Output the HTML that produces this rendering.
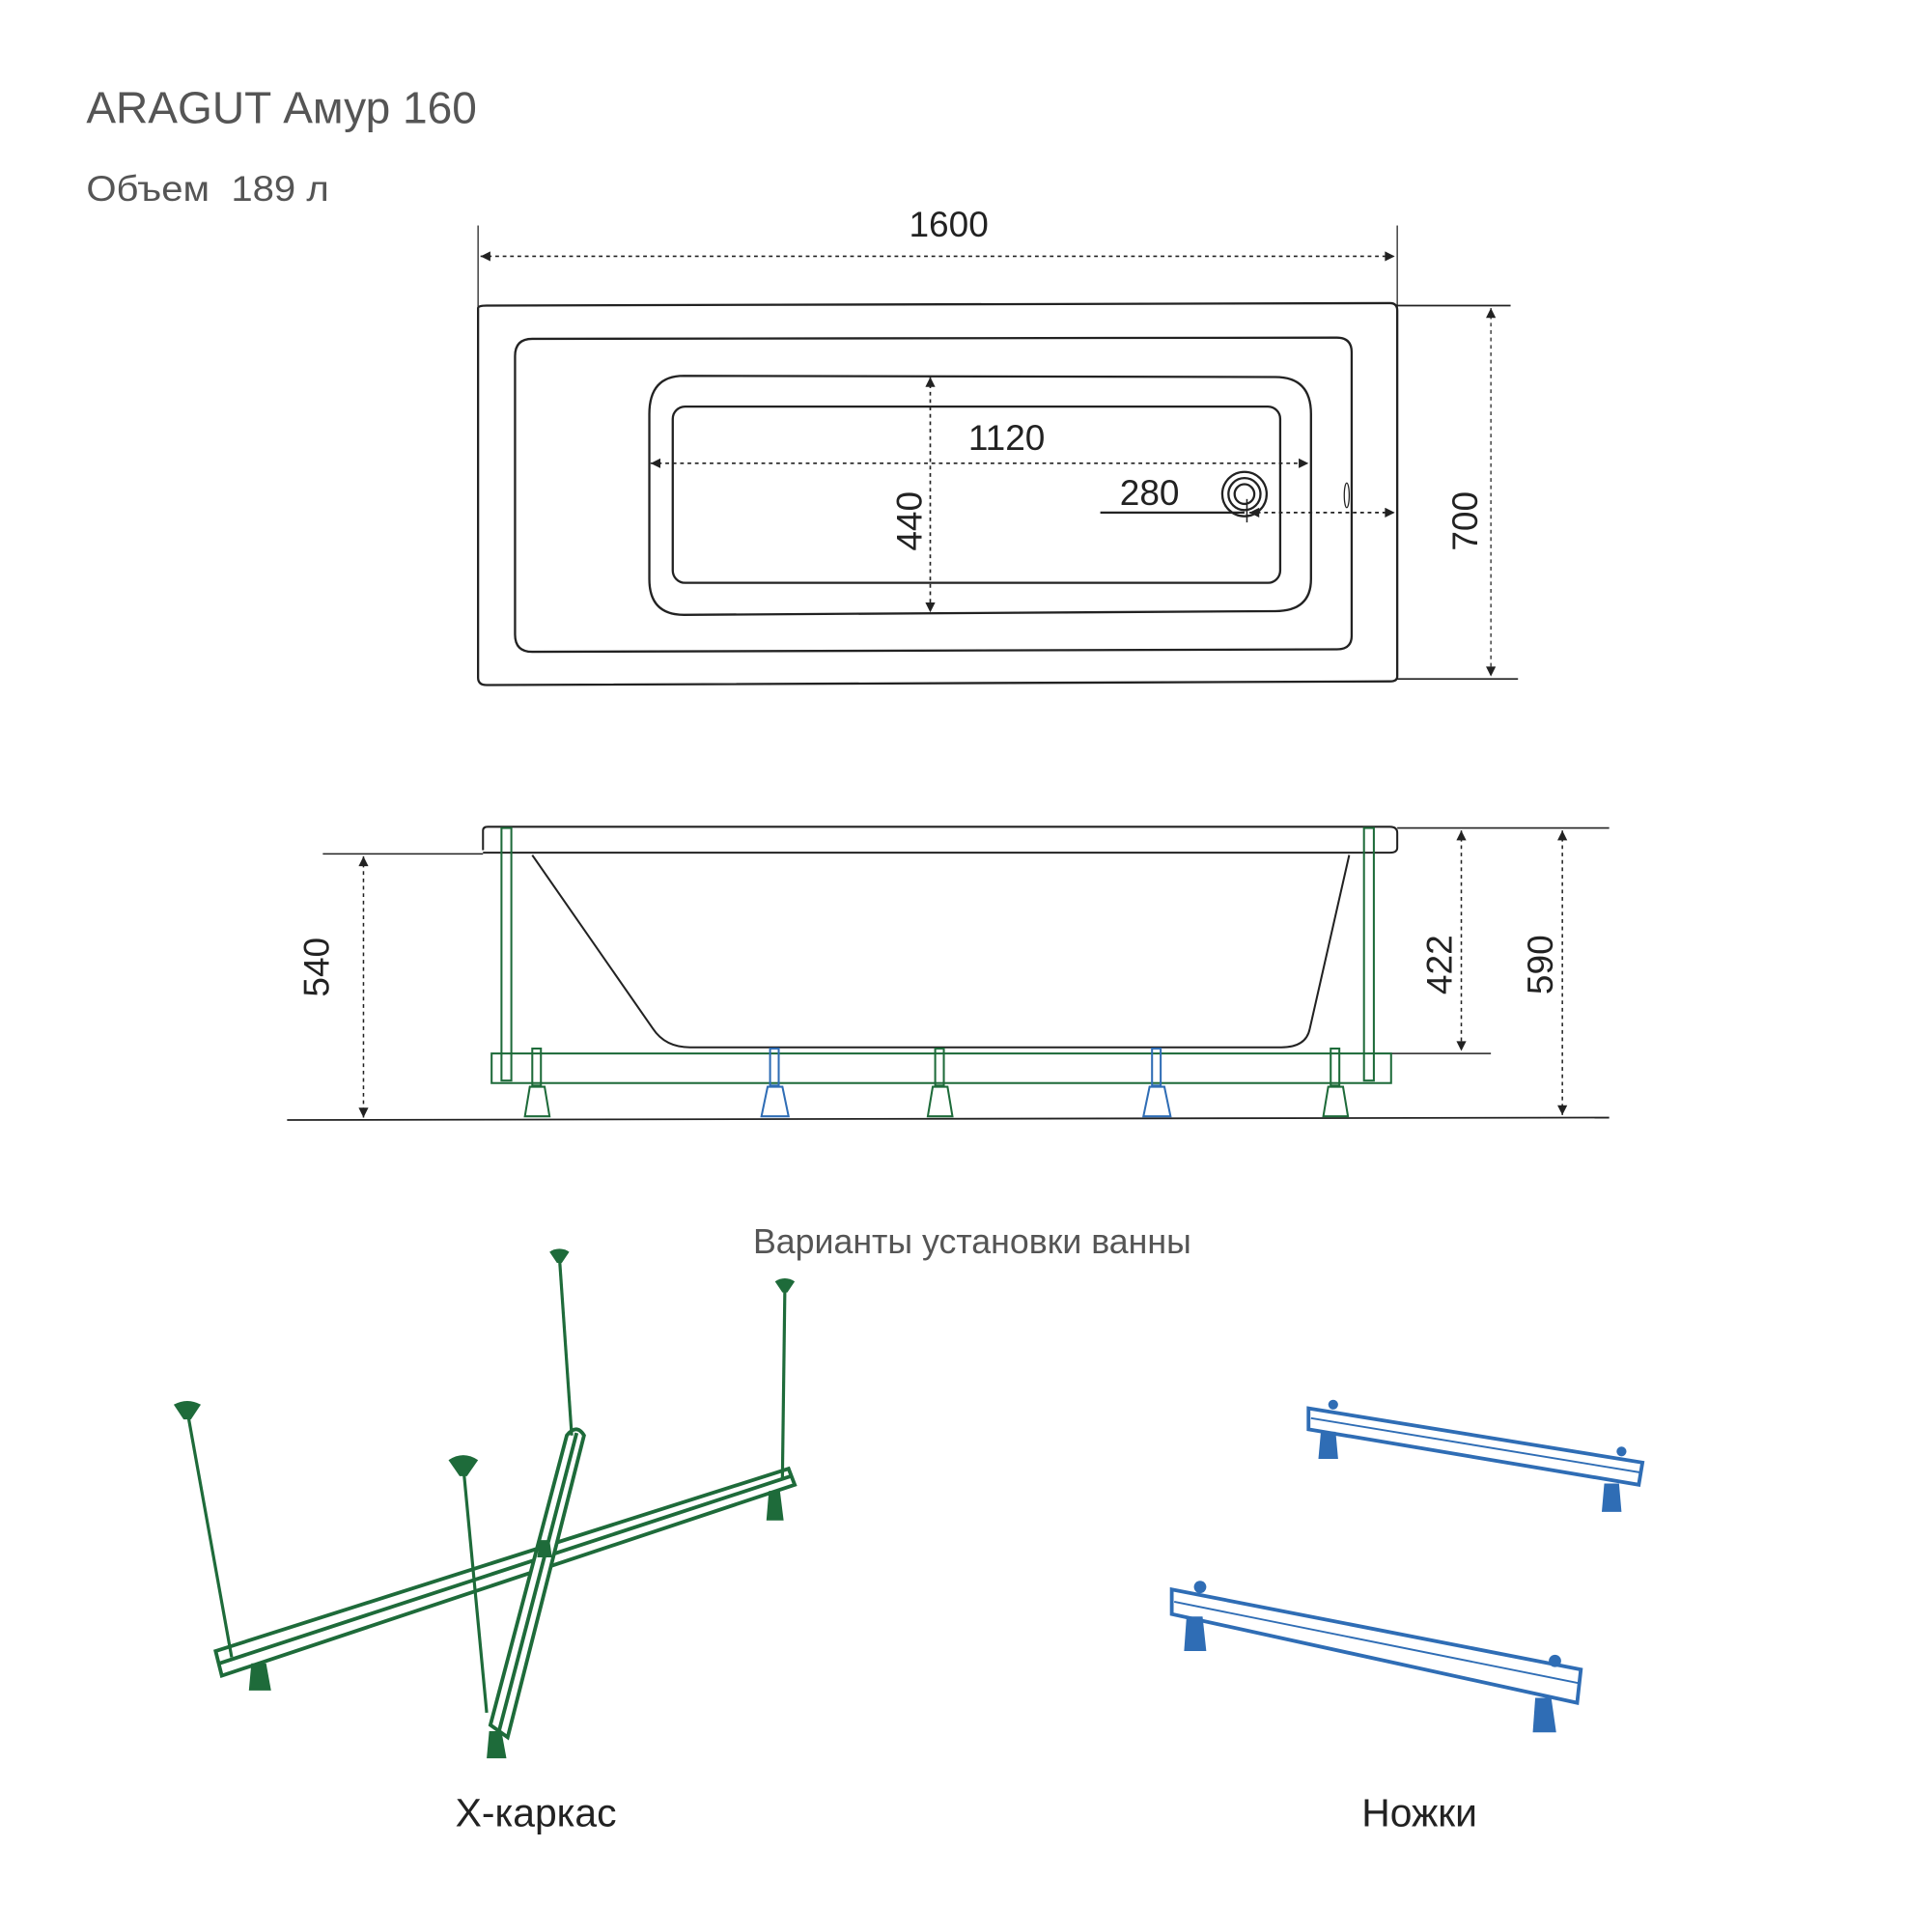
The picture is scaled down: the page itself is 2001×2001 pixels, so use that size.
<!DOCTYPE html>
<html><head><meta charset="utf-8"><style>html,body{margin:0;padding:0;background:#fff}svg{display:block}</style></head>
<body>
<svg width="2001" height="2001" viewBox="0 0 1568 1568" xmlns="http://www.w3.org/2000/svg" font-family="'Liberation Sans', 'Noto Sans CJK SC', sans-serif">
<defs>
<marker id="a" viewBox="0 0 10 10" refX="10" refY="5" markerWidth="12" markerHeight="8" orient="auto-start-reverse" markerUnits="userSpaceOnUse"><path d="M0,0 L10,5 L0,10 z" fill="#222"/></marker>
</defs>
<rect width="1568" height="1568" fill="#fff"/>
<text x="70" y="100" font-size="36" fill="#555" textLength="317" lengthAdjust="spacingAndGlyphs">ARAGUT Амур 160</text>
<text x="70" y="163" font-size="29" fill="#555" xml:space="preserve" textLength="197" lengthAdjust="spacingAndGlyphs">Объем  189 л</text>

<g fill="none" stroke="#222" stroke-width="1.8">
<line x1="388" y1="183" x2="388" y2="250" stroke-width="1"/>
<line x1="1134" y1="183" x2="1134" y2="250" stroke-width="1"/>
<line x1="390" y1="208" x2="1132" y2="208" stroke-dasharray="3,3" stroke-width="1.3" marker-start="url(#a)" marker-end="url(#a)"/>
<path d="M388,250 Q388,248 395,248 L1128,246 Q1134,246 1134,252 L1134,549 Q1134,553 1128,553 L395,556 Q388,556 388,550 Z"/>
<path d="M432,275 L1085,274 Q1097,274 1097,286 L1097,516 Q1097,527 1085,527 L432,529 Q418,529 418,515 L418,289 Q418,275 432,275 Z"/>
<path d="M555,305 L1035,306 Q1064,306 1064,336 L1064,470 Q1064,496 1035,496 L555,499 Q527,499 527,470 L527,336 Q527,305 555,305 Z"/>
<rect x="546" y="330" width="493" height="143" rx="10"/>
<line x1="1134" y1="248" x2="1226" y2="248" stroke-width="1.3"/>
<line x1="1134" y1="551" x2="1232" y2="551" stroke-width="1.3"/>
<line x1="1210" y1="250" x2="1210" y2="549" stroke-dasharray="3,3" stroke-width="1" marker-start="url(#a)" marker-end="url(#a)"/>
<line x1="755" y1="306" x2="755" y2="497" stroke-dasharray="3,3" stroke-width="1.3" marker-start="url(#a)" marker-end="url(#a)"/>
<line x1="528" y1="376" x2="1062" y2="376" stroke-dasharray="3,3" stroke-width="1.3" marker-start="url(#a)" marker-end="url(#a)"/>
<line x1="893" y1="416" x2="1010" y2="416" stroke-width="1.8"/>
<line x1="1014" y1="416" x2="1132" y2="416" stroke-dasharray="3,3" stroke-width="1.3" marker-start="url(#a)" marker-end="url(#a)"/>
<circle cx="1010" cy="401" r="18"/><circle cx="1010" cy="401" r="13"/><circle cx="1010" cy="401" r="8"/>
<line x1="1012" y1="405" x2="1012" y2="424" stroke-width="1.2"/>
<ellipse cx="1093" cy="402" rx="2" ry="10" stroke-width="1"/>
</g>
<text x="770" y="192" font-size="29" fill="#222" text-anchor="middle">1600</text>
<text x="817" y="365" font-size="29" fill="#222" text-anchor="middle">1120</text>
<text x="933" y="410" font-size="29" fill="#222" text-anchor="middle">280</text>
<text transform="translate(748,423) rotate(-90)" font-size="29" fill="#222" text-anchor="middle">440</text>
<text transform="translate(1199,423) rotate(-90)" font-size="29" fill="#222" text-anchor="middle">700</text>

<g fill="none" stroke="#222" stroke-width="1.6">
<path d="M392,690 L392,674 Q392,671 396,671 L1128,671 Q1134,671 1134,676 L1134,688 Q1134,692 1128,692 L392,692"/>
<path d="M432,694 L530,835 Q540,850 560,850 L1040,850 Q1060,850 1063,835 L1095,694"/>
<line x1="262" y1="693" x2="392" y2="693" stroke-width="1.2"/>
<line x1="1134" y1="672" x2="1306" y2="672" stroke-width="1.2"/>
<line x1="1110" y1="855" x2="1210" y2="855" stroke-width="1.2"/>
<line x1="233" y1="909" x2="1306" y2="907" stroke-width="1.4"/>
<line x1="295" y1="695" x2="295" y2="907" stroke-dasharray="3,3" stroke-width="1.2" marker-start="url(#a)" marker-end="url(#a)"/>
<line x1="1186" y1="674" x2="1186" y2="853" stroke-dasharray="3,3" stroke-width="1.2" marker-start="url(#a)" marker-end="url(#a)"/>
<line x1="1268" y1="674" x2="1268" y2="905" stroke-dasharray="3,3" stroke-width="1.2" marker-start="url(#a)" marker-end="url(#a)"/>
</g>
<text transform="translate(267,785) rotate(-90)" font-size="29" fill="#222" text-anchor="middle">540</text>
<text transform="translate(1178,783) rotate(-90)" font-size="29" fill="#222" text-anchor="middle">422</text>
<text transform="translate(1260,783) rotate(-90)" font-size="29" fill="#222" text-anchor="middle">590</text>
<g fill="none" stroke="#1e6b3a" stroke-width="1.6">
<rect x="399" y="855" width="730" height="24"/>
<rect x="407" y="672" width="8" height="205"/>
<rect x="1107" y="672" width="8" height="205"/>
<g id="lg"><rect x="432" y="851" width="7" height="30"/><path d="M430,882 h12 l4,24 h-20 z"/></g>
<use href="#lg" x="327"/><use href="#lg" x="648"/>
</g>
<g fill="none" stroke="#2f6db5" stroke-width="1.6">
<rect x="625" y="851" width="7" height="30"/><path d="M623,882 h12 l5,24 h-22 z"/>
<rect x="935" y="851" width="7" height="30"/><path d="M933,882 h12 l5,24 h-22 z"/>
</g>

<text x="789" y="1017" font-size="28" fill="#555" text-anchor="middle">Варианты установки ванны</text>

<g stroke="#1e6b3a" fill="none" stroke-width="3">
<path d="M175,1340 L640,1192 L645,1205 L180,1360 Z" fill="#fff"/>
<line x1="178" y1="1350" x2="642" y2="1198"/>
<path d="M398,1400 L460,1165 Q468,1155 474,1165 L412,1410 Z" fill="#fff"/>
<line x1="405" y1="1405" x2="468" y2="1163"/>
<line x1="152" y1="1145" x2="188" y2="1345" stroke-width="2.5"/>
<line x1="454" y1="1020" x2="464" y2="1165" stroke-width="2.5"/>
<line x1="637" y1="1045" x2="635" y2="1200" stroke-width="2.5"/>
<line x1="376" y1="1190" x2="395" y2="1390" stroke-width="2.5"/>
</g>
<g fill="#1e6b3a">
<path d="M141,1140 Q152,1134 163,1140 L155,1152 h-6 z"/><path d="M446,1016 Q454,1011 462,1016 L456,1025 h-4 z"/><path d="M629,1040 Q637,1035 645,1040 L639,1049 h-4 z"/><path d="M364,1185 Q376,1177 388,1185 L379,1198 h-6 z"/>
<path d="M204,1350 h12 l4,22 h-18 z"/><path d="M624,1210 h9 l3,24 h-14 z"/><path d="M397,1405 h10 l4,22 h-16 z"/><path d="M438,1250 h8 l2,14 h-12 z"/>
</g>
<text x="435" y="1482" font-size="32" fill="#222" text-anchor="middle">X-каркас</text>

<g stroke="#2f6db5" fill="#fff" stroke-width="3">
<path d="M1062,1143 L1333,1187 L1330,1205 L1062,1160 Z"/>
<line x1="1064" y1="1151" x2="1331" y2="1195" stroke-width="1.5"/>
<path d="M951,1290 L1283,1355 L1280,1382 L951,1310 Z"/>
<line x1="953" y1="1300" x2="1281" y2="1366" stroke-width="1.5"/>
</g>
<g fill="#2f6db5">
<path d="M1072,1162 h12 l2,22 h-16 z"/><path d="M1302,1204 h12 l2,23 h-16 z"/>
<path d="M963,1312 h13 l3,28 h-18 z"/><path d="M1246,1378 h13 l4,28 h-19 z"/>
<circle cx="1082" cy="1140" r="4"/><circle cx="1316" cy="1178" r="4"/><circle cx="974" cy="1288" r="5"/><circle cx="1262" cy="1348" r="5"/>
</g>
<text x="1152" y="1482" font-size="32" fill="#222" text-anchor="middle">Ножки</text>
</svg>
</body></html>
